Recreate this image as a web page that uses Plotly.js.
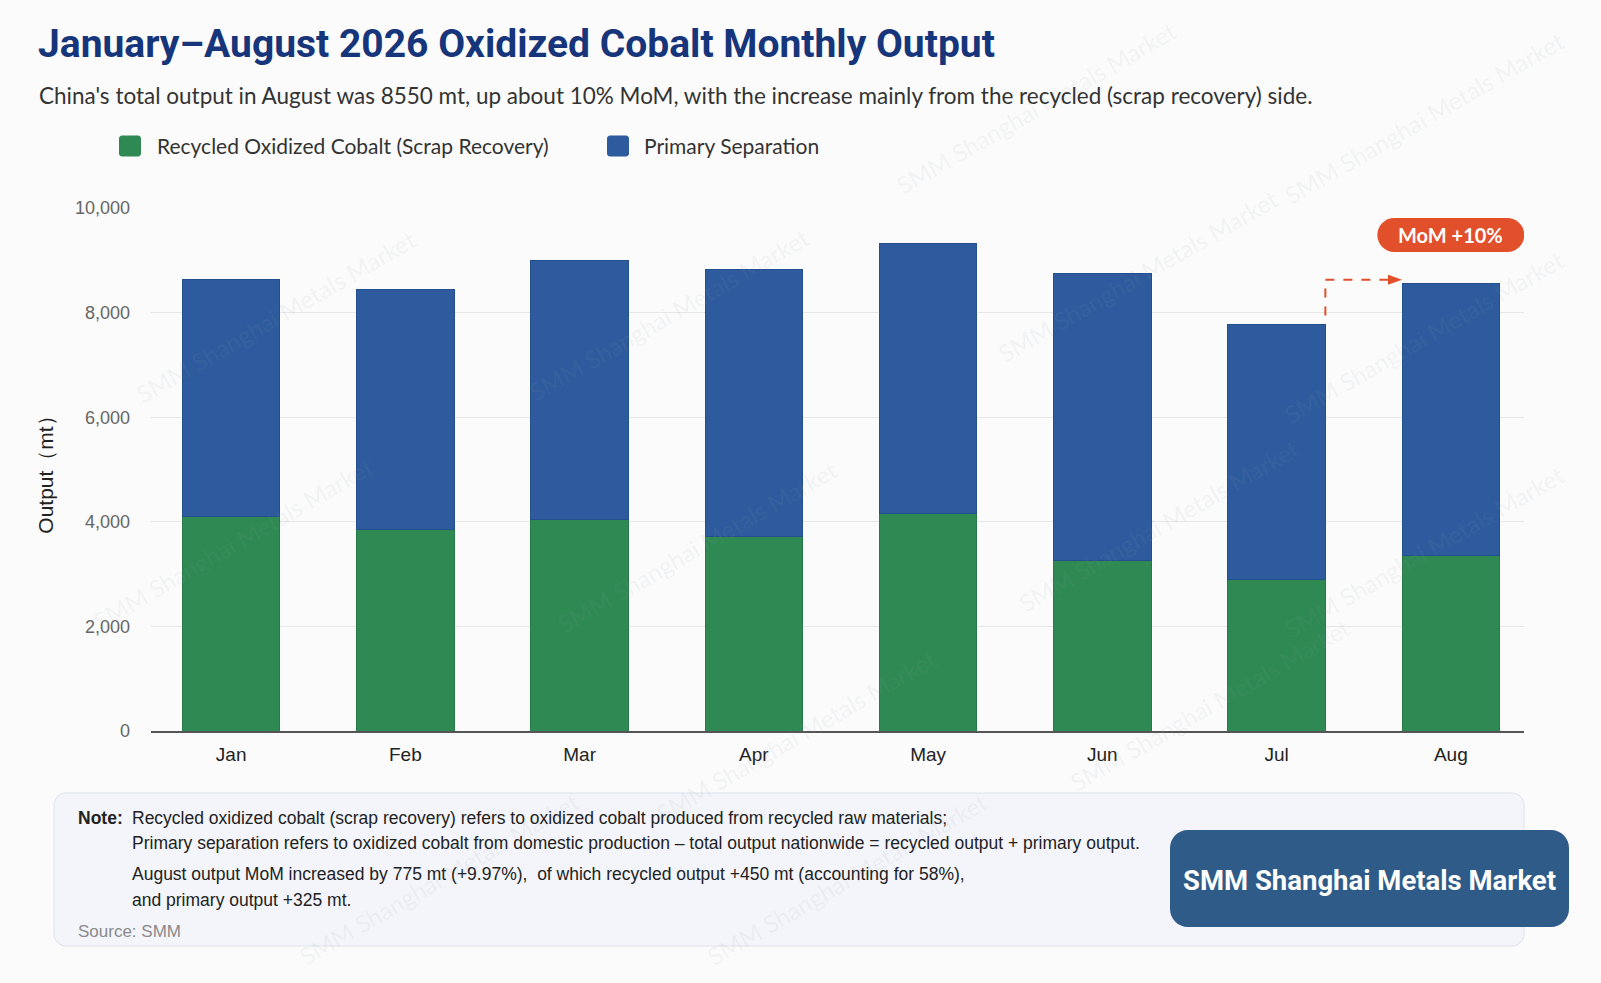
<!DOCTYPE html>
<html>
<head>
<meta charset="utf-8">
<script src="https://cdn.plot.ly/plotly-3.0.1.min.js"></script>
<style>
html,body{margin:0;padding:0;background:#fbfbfb;}
#chart{width:1601px;height:983px;}
</style>
</head>
<body>
<div id="chart"></div>
<script>
// ---- data ----
const months = ['Jan','Feb','Mar','Apr','May','Jun','Jul','Aug'];
const recycled = [4100,3850,4040,3710,4160,3260,2900,3350];
const primary  = [4530,4600,4960,5110,5160,5490,4875,5200];
const yTickVals = [0,2000,4000,6000,8000,10000];
const yTickText = ['0','2,000','4,000','6,000','8,000','10,000'];
const seriesNames = ['Recycled Oxidized Cobalt (Scrap Recovery)','Primary Separation'];
const titleText = 'January–August 2026 Oxidized Cobalt Monthly Output';
const subtitleText = "China's total output in August was 8550 mt, up about 10% MoM, with the increase mainly from the recycled (scrap recovery) side.";
const badgeText = 'MoM +10%';
const noteLines = [
  'Recycled oxidized cobalt (scrap recovery) refers to oxidized cobalt produced from recycled raw materials;',
  'Primary separation refers to oxidized cobalt from domestic production – total output nationwide = recycled output + primary output.',
  'August output MoM increased by 775 mt (+9.97%),  of which recycled output +450 mt (accounting for 58%),',
  'and primary output +325 mt.'
];
const sourceText = 'Source: SMM';
const brandText = 'SMM Shanghai Metals Market';
const watermarkText = 'SMM Shanghai Metals Market';

// ---- geometry helpers ----
const W = 1601, H = 983, ML = 151, MR = 77, MT = 208, MB = 252;
const PW = W - ML - MR, PH = H - MT - MB;
const px = x => (x - ML) / PW;
const py = y => (H - MB - y) / PH;
function rr(w, h, r) {
  const k = 0.5523 * r, x0 = -w/2, x1 = w/2, y0 = -h/2, y1 = h/2;
  return `M${x0+r},${y0} L${x1-r},${y0} C${x1-r+k},${y0} ${x1},${y0+r-k} ${x1},${y0+r} ` +
         `L${x1},${y1-r} C${x1},${y1-r+k} ${x1-r+k},${y1} ${x1-r},${y1} ` +
         `L${x0+r},${y1} C${x0+r-k},${y1} ${x0},${y1-r+k} ${x0},${y1-r} ` +
         `L${x0},${y0+r} C${x0},${y0+r-k} ${x0+r-k},${y0} ${x0+r},${y0} Z`;
}
function boxShape(cx, cy, w, h, r, fill, line, lw) {
  return {type:'path', xref:'paper', yref:'paper', xsizemode:'pixel', ysizemode:'pixel',
    xanchor: px(cx), yanchor: py(cy), path: rr(w, h, r), fillcolor: fill,
    line:{color: line || fill, width: lw || 0}, layer:'below'};
}

const GREEN = '#2e8a52', BLUE = '#2d5b9d', RED = '#e1502b';
const totals = months.map((m, i) => recycled[i] + primary[i]);
const bargap = 0.44, barW = 1 - bargap;

const traces = [
  {type:'bar', name: seriesNames[0], x: months, y: recycled,
   marker:{color: GREEN, line:{color:'#287a48', width:1}}, showlegend:false, hoverinfo:'y+name'},
  {type:'bar', name: seriesNames[1], x: months, y: primary,
   marker:{color: BLUE, line:{color:'#244f8e', width:1}}, showlegend:false, hoverinfo:'y+name'}
];

const shapes = [];
const annotations = [];

// watermarks (faint, diagonal), kept inside the picture
const wmX = [1015, 1395, 270, 655, 1115, 1395, 228, 683, 1135, 1395, 780, 1185, 430, 830];
const wmY = [105, 115, 310, 308, 270, 330, 532, 535, 515, 540, 720, 690, 860, 860];
wmX.forEach((x, i) => {
  annotations.push({xref:'paper', yref:'paper', x: px(x*1.021), y: py(wmY[i]*1.021), xanchor:'center', yanchor:'middle',
    text: watermarkText, showarrow:false, textangle:-30,
    font:{family:'Lato, sans-serif', size:24, color:'rgba(150,155,170,0.10)'}});
});

// note box + brand box
shapes.push(boxShape(789, 869.5, 1470, 153, 12, '#f3f5fa', '#dce2ec', 1));
shapes.push(boxShape(1369.5, 878.5, 399, 97, 18, '#2f5b88', '#2f5b88', 0));

// custom legend
const legSq = [130, 618], legTx = [155, 642];
const legColors = [GREEN, BLUE];
legSq.forEach((x, i) => {
  shapes.push(Object.assign(boxShape(x, 146, 22, 21, 3, legColors[i], legColors[i], 0), {layer:'above'}));
  annotations.push({xref:'paper', yref:'paper', x: px(legTx[i]), y: py(146), xanchor:'left', yanchor:'middle',
    text: seriesNames[i], showarrow:false, font:{family:'Lato, sans-serif', size:21, color:'#333'}});
});

// subtitle
annotations.push({xref:'paper', yref:'paper', x: px(37), y: py(96), xanchor:'left', yanchor:'middle',
  text: subtitleText, showarrow:false, font:{family:'Lato, sans-serif', size:22.5, color:'#333'}});

// MoM arrow (from Jul top to Aug top)
const julIdx = 6, augIdx = 7;
const xStart = julIdx + barW/2, xEnd = augIdx - barW/2;
const yArrow = totals[augIdx] + 80;
shapes.push({type:'line', xref:'x', yref:'y', x0: xStart, x1: xStart, y0: totals[julIdx] + 170, y1: yArrow,
  line:{color: RED, width:2, dash:'dash'}});
shapes.push({type:'line', xref:'x', yref:'y', x0: xStart, x1: xEnd - 0.06, y0: yArrow, y1: yArrow,
  line:{color: RED, width:2, dash:'dash'}});
shapes.push({type:'path', xref:'x', yref:'y', xsizemode:'pixel', ysizemode:'pixel', xanchor: xEnd, yanchor: yArrow,
  path:'M0,0 L-14,5 L-14,-5 Z', fillcolor: RED, line:{color: RED, width:0}});

// MoM badge
shapes.push({type:'path', xref:'x', yref:'paper', xsizemode:'pixel', ysizemode:'pixel', xanchor: augIdx, yanchor: py(235),
  path: rr(147, 34, 17), fillcolor: RED, line:{color: RED, width:0}});
annotations.push({xref:'x', yref:'paper', x: augIdx, y: py(235), text: badgeText, showarrow:false,
  xanchor:'center', yanchor:'middle', font:{family:'Lato, sans-serif', size:20, color:'#ffffff', weight:700}});

// notes
annotations.push({xref:'paper', yref:'paper', x: px(76), y: py(818), xanchor:'left', yanchor:'middle',
  text:'<b>Note:</b>', showarrow:false, font:{family:'Liberation Sans, Arial, sans-serif', size:17.5, color:'#222'}});
const noteY = [818, 843, 874, 900];
noteLines.forEach((t, i) => {
  annotations.push({xref:'paper', yref:'paper', x: px(130), y: py(noteY[i]), xanchor:'left', yanchor:'middle',
    text: t, showarrow:false, font:{family:'Liberation Sans, Arial, sans-serif', size:17.5, color:'#222'}});
});
annotations.push({xref:'paper', yref:'paper', x: px(76), y: py(931), xanchor:'left', yanchor:'middle',
  text: sourceText, showarrow:false, font:{family:'Liberation Sans, Arial, sans-serif', size:17, color:'#8a8a8a'}});
annotations.push({xref:'paper', yref:'paper', x: px(1369), y: py(880), xanchor:'center', yanchor:'middle',
  text: brandText, showarrow:false, font:{family:'Roboto, sans-serif', size:27.5, color:'#ffffff', weight:700}});

const layout = {
  width: W, height: H,
  paper_bgcolor:'#fbfbfb', plot_bgcolor:'rgba(0,0,0,0)',
  margin:{l: ML, r: MR, t: MT, b: MB, pad:0},
  barmode:'stack', bargap: bargap,
  title:{text: titleText, xref:'container', yref:'container', x: 38/W, y: 1 - 43/H,
    xanchor:'left', yanchor:'middle', font:{family:'Roboto, sans-serif', size:39, color:'#16357a', weight:700}},
  xaxis:{type:'category', range:[-0.46, 7.42], showline:true, linecolor:'#555', linewidth:1.5,
    ticks:'', ticklabelstandoff:6, tickfont:{family:'Liberation Sans, Arial, sans-serif', size:19, color:'#222'},
    showgrid:false, zeroline:false, fixedrange:true},
  yaxis:{range:[0, 10000], tickvals: yTickVals, ticktext: yTickText, showgrid:true, gridcolor:'#e7e7e7', gridwidth:1,
    zeroline:false, showline:false, ticks:'', ticklabelstandoff:20,
    tickfont:{family:'Liberation Sans, Arial, sans-serif', size:18, color:'#666'},
    title:{text:'Output（mt）', standoff:15, font:{family:'Liberation Sans, Arial, sans-serif', size:21, color:'#222'}},
    fixedrange:true},
  shapes: shapes,
  annotations: annotations,
  showlegend:false
};

Plotly.newPlot('chart', traces, layout, {displayModeBar:false, staticPlot:true});
</script>
</body>
</html>
